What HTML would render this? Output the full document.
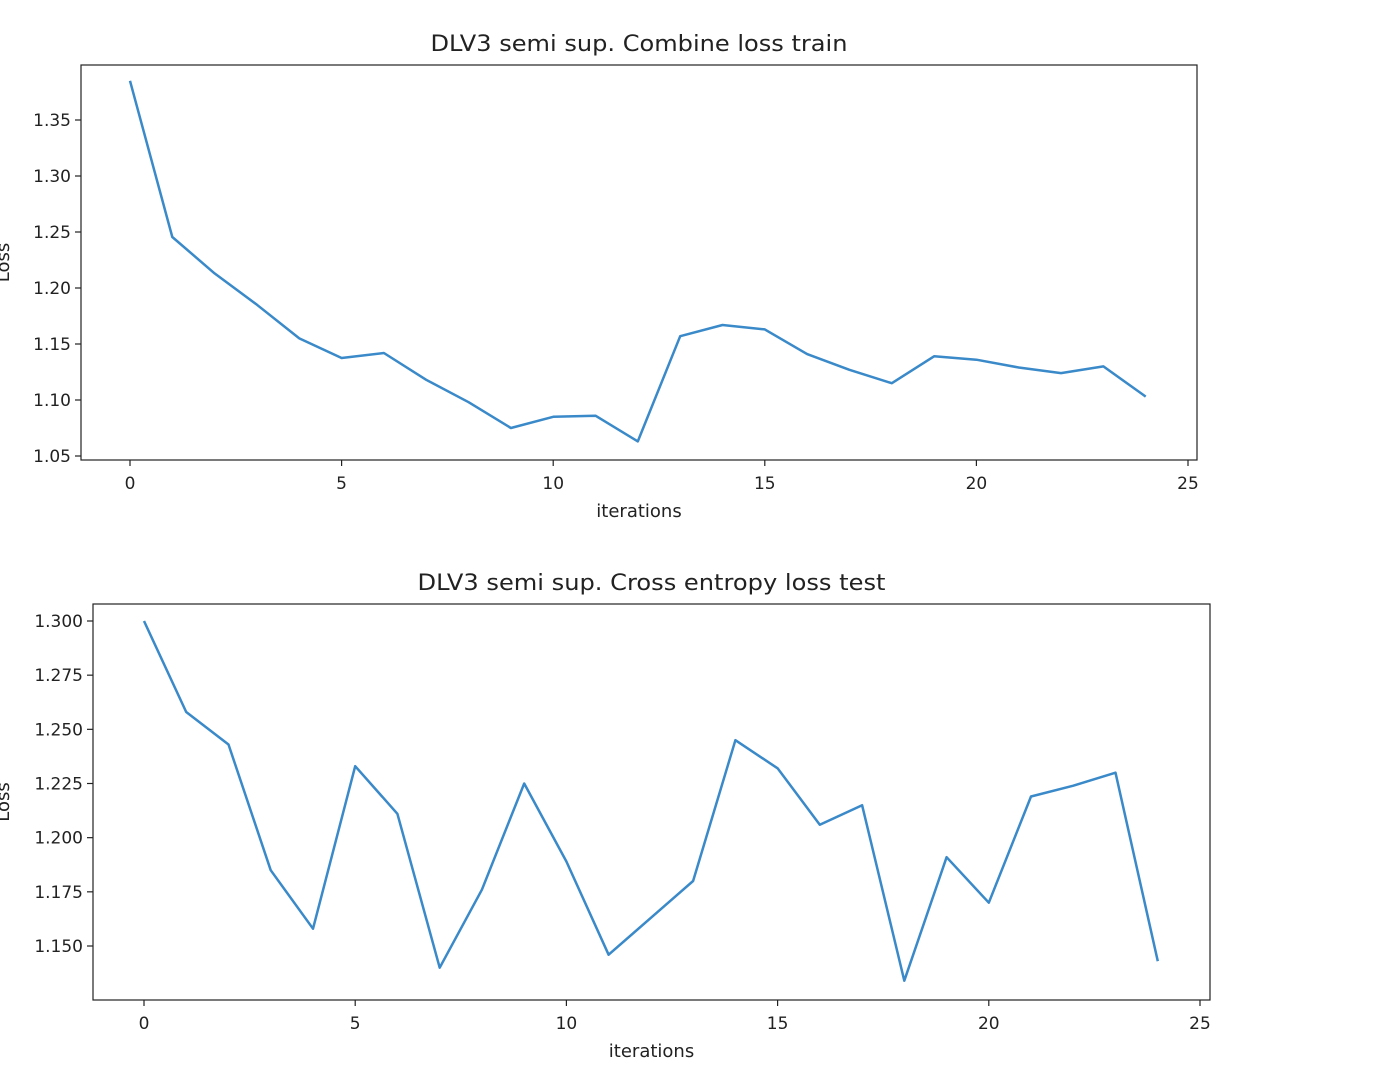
<!DOCTYPE html>
<html><head><meta charset="utf-8"><style>
body{margin:0;background:#fff;}
svg{display:block;font-family:"DejaVu Sans","Liberation Sans",sans-serif;}
</style></head><body>
<svg id="svg" width="1380" height="1088"></svg>
<script>
const iterations=[0,1,2,3,4,5,6,7,8,9,10,11,12,13,14,15,16,17,18,19,20,21,22,23,24];
const trainLoss=[1.385,1.2455,1.213,1.185,1.155,1.1375,1.142,1.118,1.098,1.075,1.085,1.086,1.063,1.157,1.167,1.163,1.141,1.127,1.115,1.139,1.136,1.129,1.124,1.130,1.103];
const testLoss=[1.300,1.258,1.243,1.185,1.158,1.233,1.211,1.140,1.176,1.225,1.189,1.146,1.163,1.180,1.245,1.232,1.206,1.215,1.134,1.191,1.170,1.219,1.224,1.230,1.143];
const xTicks=[0,5,10,15,20,25];
const yTicks1=[1.05,1.10,1.15,1.20,1.25,1.30,1.35];
const yTicks1Labels=["1.05","1.10","1.15","1.20","1.25","1.30","1.35"];
const yTicks2=[1.150,1.175,1.200,1.225,1.250,1.275,1.300];
const yTicks2Labels=["1.150","1.175","1.200","1.225","1.250","1.275","1.300"];
const NS="http://www.w3.org/2000/svg";
const svg=document.getElementById('svg');
function mk(tag,attrs,parent){const e=document.createElementNS(NS,tag);for(const k in attrs)e.setAttribute(k,attrs[k]);(parent||svg).appendChild(e);return e;}
function chart(cfg){
  const g=mk('g',{});
  
  
  const sx=v=>cfg.x0px+(v-0)*(cfg.x25px-cfg.x0px)/25;
  const sy=v=>cfg.yAp+(v-cfg.yAv)*(cfg.yBp-cfg.yAp)/(cfg.yBv-cfg.yAv);
  const t=mk('text',{x:(cfg.L+cfg.R)/2,y:cfg.T-14,'text-anchor':'middle','font-size':22,fill:'#222',textLength:cfg.tw,lengthAdjust:'spacingAndGlyphs'},g);
  t.textContent=cfg.title;
  
  
  xTicks.forEach(v=>{const x=sx(v);
    const l=mk('line',{x1:x,x2:x,y1:cfg.B,y2:cfg.B+6,stroke:'#222','stroke-width':1.2},g);
    
    
    const tx=mk('text',{x:x,y:cfg.B+29,'text-anchor':'middle','font-size':17,fill:'#222'},g);tx.textContent=v;
    
    
  });
  cfg.yt.forEach((v,i)=>{const y=sy(v);
    const l=mk('line',{x1:cfg.L-6,x2:cfg.L,y1:y,y2:y,stroke:'#222','stroke-width':1.2},g);
    
    
    const ty=mk('text',{x:cfg.L-10,y:y+6,'text-anchor':'end','font-size':17,fill:'#222'},g);ty.textContent=cfg.yl[i];
    
    
  });
  const pts=iterations.map((v,i)=>sx(v).toFixed(1)+','+sy(cfg.data[i]).toFixed(1)).join(' ');
  const pl=mk('polyline',{points:pts,fill:'none',stroke:'#3a89c9','stroke-width':2.5,'stroke-linejoin':'round'},g);
  
  
  const r=mk('rect',{x:cfg.L,y:cfg.T,width:cfg.R-cfg.L,height:cfg.B-cfg.T,fill:'none',stroke:'#222','stroke-width':1.2},g);
  
  
  const xl=mk('text',{x:(cfg.L+cfg.R)/2,y:cfg.B+57,'text-anchor':'middle','font-size':18,fill:'#222'},g);xl.textContent='iterations';
  
  
  const cy=(cfg.T+cfg.B)/2;
  const yl=mk('text',{x:0,y:0,'text-anchor':'middle','font-size':18,fill:'#222',transform:`translate(9,${cy}) rotate(-90)`},g);yl.textContent='Loss';
  
  
}
chart({name:'train-loss-chart',title:'DLV3 semi sup. Combine loss train',tw:417,L:81,R:1197,T:65,B:460,x0px:130,x25px:1188,yAv:1.35,yAp:120,yBv:1.05,yBp:456,yt:yTicks1,yl:yTicks1Labels,data:trainLoss});
chart({name:'test-loss-chart',title:'DLV3 semi sup. Cross entropy loss test',tw:468,L:93,R:1210,T:604,B:1000,x0px:144,x25px:1200,yAv:1.300,yAp:621,yBv:1.150,yBp:946,yt:yTicks2,yl:yTicks2Labels,data:testLoss});
</script>
</body></html>
